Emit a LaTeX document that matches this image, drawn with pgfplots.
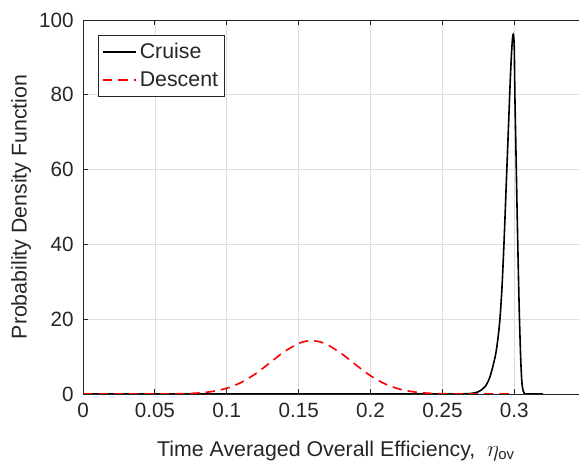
\documentclass[border=0pt]{standalone}
\usepackage{pgfplots}
\pgfplotsset{compat=1.18}
\usepackage{fontspec}
\setmainfont{Liberation Sans}
\definecolor{txt}{gray}{0.15}
\definecolor{gridc}{gray}{0.87}
\begin{document}
\begin{tikzpicture}
\begin{axis}[name=ax, scale only axis, width=372pt, height=280.5pt,
  xmin=0, xmax=0.345, ymin=0, ymax=100,
  xtick={0,0.05,0.1,0.15,0.2,0.25,0.3}, ytick={0,20,40,60,80,100},
  scaled x ticks=false,
  xticklabel style={/pgf/number format/fixed, /pgf/number format/precision=2, yshift=-3.5pt},
  yticklabel style={xshift=-3.5pt},
  /pgf/number format/assume math mode=true,
  axis x line=box, axis y line=left, axis line style={-, color=txt, line width=0.6pt},
  tick align=inside, major tick length=4pt, tick style={color=txt, line width=0.6pt},
  grid=major, major grid style={color=gridc, line width=0.5pt},
  ticklabel style={font=\fontsize{15.5}{18}\selectfont, text=txt},
  label style={font=\fontsize{16}{19}\selectfont, text=txt},
  xlabel={Time Averaged Overall Efficiency,\ \ $\eta_{\mathrm{ov}}$},
  xlabel style={at={(axis description cs:0.51,0)}, anchor=north, inner sep=0pt, yshift=-35pt},
  ylabel={Probability Density Function},
  ylabel style={at={(axis description cs:-0.125,0.5)}, anchor=center, inner sep=0pt},
  legend style={at={(axis description cs:0.03,0.96)}, anchor=north west, draw=txt, fill=white,
    font=\fontsize{16}{19}\selectfont, text=txt, line width=0.5pt, inner xsep=3pt, inner ysep=4pt,
    row sep=4pt},
  legend cell align=left,
  legend image code/.code={\draw[#1] (0pt,0pt) -- (25pt,0pt);},
]
\addplot[black, line width=1.2pt, smooth] coordinates {
(0,0) (0.25,0) (0.26,0.02) (0.265,0.05) (0.270,0.15) (0.273,0.35) (0.276,0.8)
(0.2797,2) (0.283,4.5) (0.2867,10) (0.2885,14.5) (0.2900,20) (0.2915,29)
(0.2930,42) (0.2945,57) (0.2960,72) (0.2972,84) (0.2982,92) (0.2990,96)
(0.2996,95.5) (0.3000,92) (0.3004,80) (0.3012,64) (0.3020,48) (0.3028,33)
(0.3036,20) (0.3045,9) (0.3053,3) (0.3062,0.8) (0.3070,0.2) (0.3080,0) (0.3200,0)
};
\addlegendentry{Cruise}
\addplot[red, line width=1.2pt, dash pattern=on 7pt off 4.5pt, smooth] coordinates {
(0,0) (0.04,0.001) (0.05,0.007) (0.06,0.027) (0.07,0.091) (0.08,0.266) (0.09,0.685)
(0.10,1.55) (0.11,3.08) (0.12,5.40) (0.13,8.34) (0.14,11.32) (0.15,13.53)
(0.155,14.10) (0.16,14.24) (0.165,13.92) (0.17,13.19) (0.18,10.76) (0.19,7.72)
(0.20,4.88) (0.21,2.71) (0.22,1.33) (0.23,0.572) (0.24,0.217) (0.25,0.073)
(0.26,0.021) (0.27,0.005) (0.28,0.001) (0.297,0)
};
\addlegendentry{Descent}
\end{axis}
\pgfresetboundingbox
\path[use as bounding box] ([xshift=-62.25pt,yshift=-52.5pt]ax.south west) rectangle ([yshift=15pt]ax.north east);
\end{tikzpicture}
\end{document}
